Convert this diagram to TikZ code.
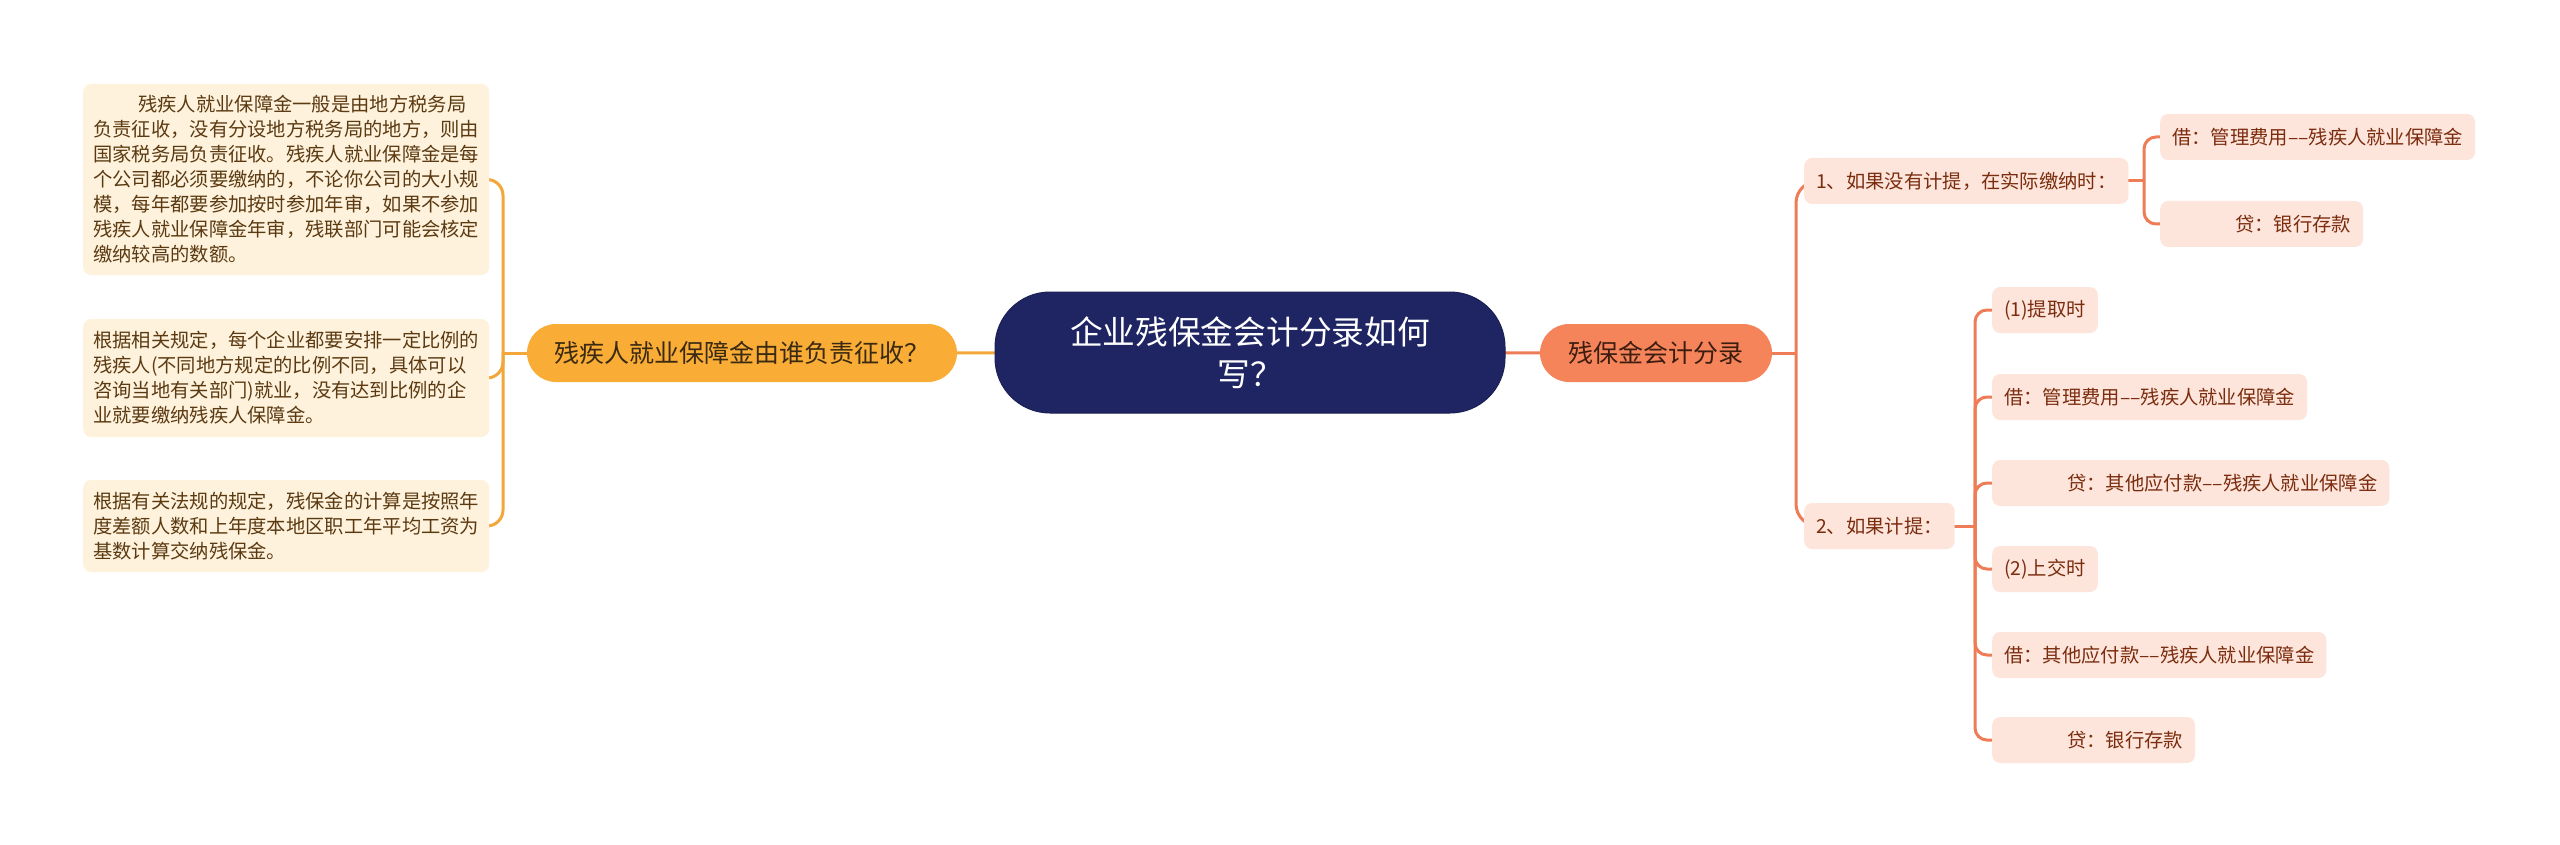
\documentclass[tikz,border=0pt]{standalone}
\usepackage{fontspec}
\setmainfont{Noto Sans CJK SC}
\usetikzlibrary{backgrounds}
\definecolor{rootc}{HTML}{1F2563}
\definecolor{lbfill}{HTML}{F9AC36}
\definecolor{lbtext}{HTML}{3A2A12}
\definecolor{llfill}{HTML}{FEF2DC}
\definecolor{lltext}{HTML}{5B3A12}
\definecolor{lline}{HTML}{F3A73B}
\definecolor{rbfill}{HTML}{F6845A}
\definecolor{rbtext}{HTML}{3C1D10}
\definecolor{rlfill}{HTML}{FDE5DB}
\definecolor{rltext}{HTML}{7B2C0E}
\definecolor{rline}{HTML}{EE7D57}
\begin{document}
\begin{tikzpicture}[x=1pt,y=-1pt,
  rootbox/.style={fill=rootc, draw=rootc!85!black, line width=1pt, text=white, rounded corners=55pt,
    minimum width=510pt, minimum height=121pt, align=center, inner sep=0pt,
    font=\fontsize{32.7}{42}\selectfont},
  lbranch/.style={fill=lbfill, text=lbtext, rounded corners=29pt, minimum width=430pt,
    minimum height=58pt, inner sep=0pt, font=\fontsize{25}{30}\selectfont},
  rbranch/.style={fill=rbfill, text=rbtext, rounded corners=29pt, minimum width=232pt,
    minimum height=58pt, inner sep=0pt, font=\fontsize{25}{30}\selectfont},
  lleaf/.style={anchor=west, fill=llfill, text=lltext, rounded corners=8pt, text width=386pt,
    inner xsep=10pt, inner ysep=0pt, align=left, font=\fontsize{19.3}{25}\selectfont},
  rleaf/.style={anchor=west, fill=rlfill, text=rltext, rounded corners=8pt, minimum height=46pt,
    inner xsep=12pt, inner ysep=0pt, font=\fontsize{19.3}{23}\selectfont},
  lconn/.style={draw=lline, line width=3pt},
  rconn/.style={draw=rline, line width=3pt}
]
\useasboundingbox (0,0) rectangle (2560,845);

% central node
\node[rootbox] (root) at (1250,352.5) {企业残保金会计分录如何\\写？};

% left branch
\node[lbranch] (lb) at (742,353) {残疾人就业保障金由谁负责征收？};
\node[lleaf, minimum height=191pt] (ll1) at (83,179.5) {\hspace*{45pt}残疾人就业保障金一般是由地方税务局\\负责征收，没有分设地方税务局的地方，则由\\国家税务局负责征收。残疾人就业保障金是每\\个公司都必须要缴纳的，不论你公司的大小规\\模，每年都要参加按时参加年审，如果不参加\\残疾人就业保障金年审，残联部门可能会核定\\缴纳较高的数额。};
\node[lleaf, minimum height=118pt] (ll2) at (83,378) {根据相关规定，每个企业都要安排一定比例的\\残疾人(不同地方规定的比例不同，具体可以\\咨询当地有关部门)就业，没有达到比例的企\\业就要缴纳残疾人保障金。};
\node[lleaf, minimum height=92pt] (ll3) at (83,526) {根据有关法规的规定，残保金的计算是按照年\\度差额人数和上年度本地区职工年平均工资为\\基数计算交纳残保金。};

% right branch
\node[rbranch] (rb) at (1656,353) {残保金会计分录};
\node[rleaf] (n1) at (1804,181) {1、如果没有计提，在实际缴纳时：};
\node[rleaf] (n2) at (1804,526) {2、如果计提：};
\node[rleaf] (n1a) at (2160,137) {借：管理费用––残疾人就业保障金};
\node[rleaf] (n1b) at (2160,224) {\hspace*{63pt}贷：银行存款};
\node[rleaf] (n2a) at (1992,310) {(1)提取时};
\node[rleaf] (n2b) at (1992,397) {借：管理费用––残疾人就业保障金};
\node[rleaf] (n2c) at (1992,483) {\hspace*{63pt}贷：其他应付款––残疾人就业保障金};
\node[rleaf] (n2d) at (1992,569) {(2)上交时};
\node[rleaf] (n2e) at (1992,655) {借：其他应付款––残疾人就业保障金};
\node[rleaf] (n2f) at (1992,740) {\hspace*{63pt}贷：银行存款};

\coordinate (fl) at (503,353);
\coordinate (fr) at (1796,353);
\coordinate (f1) at (2144,181);
\coordinate (f2) at (1975,526);

\begin{pgfonlayer}{background}
\fill[white] (0,0) rectangle (2560,845);
\draw[lconn] (root.center) -- (lb.center);
\draw[lconn] (lb.center) -- (fl);
\foreach \n in {ll1,ll2,ll3} \draw[lconn, rounded corners=16pt] (fl) |- (\n.center);
\draw[rconn] (root.center) -- (rb.center);
\draw[rconn] (rb.center) -- (fr);
\foreach \n in {n1,n2} \draw[rconn, rounded corners=22pt] (fr) |- (\n.center);
\draw[rconn] (n1.center) -- (f1);
\foreach \n in {n1a,n1b} \draw[rconn, rounded corners=12pt] (f1) |- (\n.center);
\draw[rconn] (n2.center) -- (f2);
\foreach \n in {n2a,n2b,n2c,n2d,n2e,n2f} \draw[rconn, rounded corners=12pt] (f2) |- (\n.center);
\end{pgfonlayer}
\end{tikzpicture}
\end{document}
